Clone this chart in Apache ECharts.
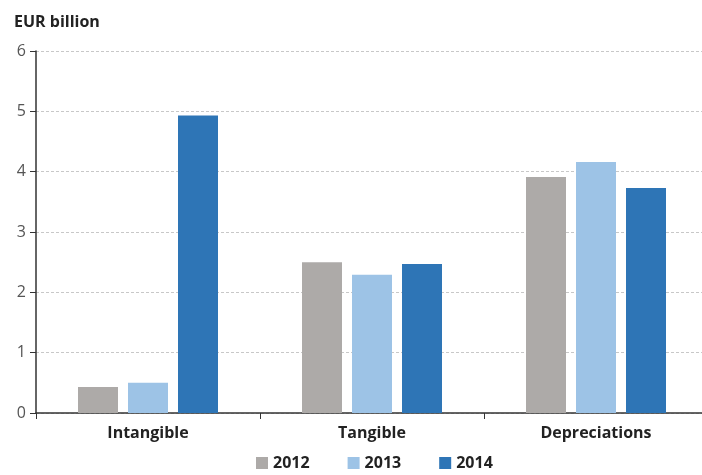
<!DOCTYPE html>
<html>
<head>
<meta charset="utf-8">
<script src="https://cdn.jsdelivr.net/npm/echarts@6/dist/echarts.min.js"></script>
<style>
  html, body { margin: 0; padding: 0; background: #fff; overflow: hidden; }
  /* plot area runs slightly past the right edge in the original */
  #chart { width: 708px; height: 475px; }
</style>
</head>
<body>
<div id="chart"></div>
<script>
// categories and values (EUR billion)
const categories = ["Intangible", "Tangible", "Depreciations"];
const years = ["2012", "2013", "2014"];
const values2012 = [0.43, 2.50, 3.91];
const values2013 = [0.50, 2.29, 4.16];
const values2014 = [4.93, 2.47, 3.73];
const colors = ["#ADAAA8", "#9DC3E6", "#2E75B6"];

const chart = echarts.init(document.getElementById("chart"));

const seriesData = [values2012, values2013, values2014];

const option = {
  animation: false,
  textStyle: { fontFamily: "Open Sans" },
  title: {
    text: "EUR billion",
    left: 9,
    top: 9,
    textStyle: { fontSize: 16, fontWeight: "bold", color: "#222" },
  },
  legend: {
    top: 455,
    left: 256,
    padding: 0,
    itemWidth: 12,
    itemHeight: 12,
    itemGap: 38,
    icon: "rect",
    textStyle: { fontSize: 16, fontWeight: "bold", color: "#222" },
    data: years,
  },
  grid: {
    left: 36,
    top: 51,
    right: 0,
    height: 362,
    containLabel: false,
  },
  xAxis: {
    type: "category",
    data: categories,
    axisLine: { lineStyle: { color: "#333", width: 1.5 } },
    axisTick: { show: true, length: 6, lineStyle: { color: "#333" } },
    axisLabel: { fontSize: 16, fontWeight: "bold", color: "#222", margin: 12 },
  },
  yAxis: {
    type: "value",
    min: 0,
    max: 6,
    interval: 1,
    axisLine: { show: true, lineStyle: { color: "#333", width: 1.5 } },
    axisTick: { show: true, length: 6, lineStyle: { color: "#333" } },
    axisLabel: { fontSize: 16, color: "#555", margin: 10 },
    splitLine: { lineStyle: { color: "#C8C8C8", type: [3, 2] } },
  },
  series: years.map((y, i) => ({
    name: y,
    type: "bar",
    data: seriesData[i],
    barWidth: 40,
    barGap: "25%",
    itemStyle: { color: colors[i] },
  })),
};

chart.setOption(option);
</script>
</body>
</html>
